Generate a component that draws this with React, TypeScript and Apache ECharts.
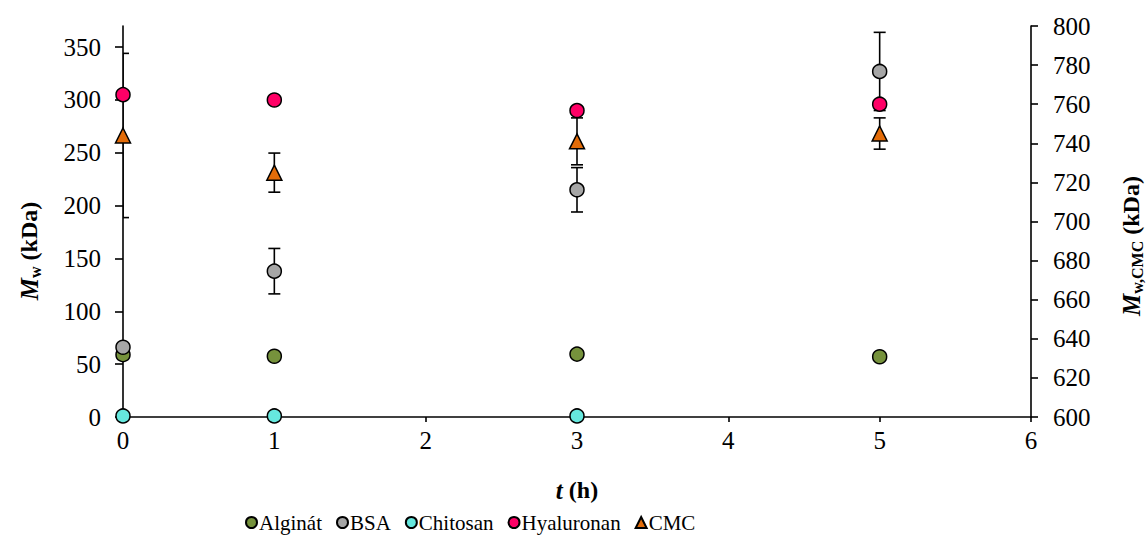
import React, { useEffect, useRef } from "react";
import * as echarts from "echarts";

const FONT = "'Liberation Serif', 'Times New Roman', serif";

const times = [0, 1, 3, 5];
const alginat = [59, 57.5, 59.5, 57];
const bsa = [66, 138, 215, 327];
const bsaErr = [0, 21.5, 21, 37];
const chitosanTimes = [0, 1, 3];
const chitosan = [1, 1, 1];
const hyaluronan = [305, 300, 290, 296];
const cmc = [744, 725, 741, 745];
const cmcErr = [42, 10, 12, 8];

const leftTicks = [0, 50, 100, 150, 200, 250, 300, 350];

const names = ["Alginát", "BSA", "Chitosan", "Hyaluronan", "CMC"];
const colors = ["#76923C", "#A6A6A6", "#66E8DE", "#FF0066", "#E36C09"];

function errRender(params: any, api: any) {
  const x = api.value(0);
  const y = api.value(1);
  const e = api.value(2);
  if (!e) return null;
  const hi = api.coord([x, y + e]);
  const lo = api.coord([x, y - e]);
  const w = 6;
  const style = { stroke: "#000", lineWidth: 1.6 };
  return {
    type: "group",
    children: [
      { type: "line", shape: { x1: hi[0], y1: hi[1], x2: lo[0], y2: lo[1] }, style },
      { type: "line", shape: { x1: hi[0] - w, y1: hi[1], x2: hi[0] + w, y2: hi[1] }, style },
      { type: "line", shape: { x1: lo[0] - w, y1: lo[1], x2: lo[0] + w, y2: lo[1] }, style },
    ],
  };
}

const titleRich = {
  m: { fontFamily: FONT, fontSize: 25, fontWeight: "bold", fontStyle: "italic", lineHeight: 28 },
  s: { fontFamily: FONT, fontSize: 16, fontWeight: "bold", padding: [12, 0, 0, 0], lineHeight: 16 },
  n: { fontFamily: FONT, fontSize: 24, fontWeight: "bold", lineHeight: 28 },
};

export default function App() {
  const ref = useRef<HTMLDivElement>(null);
  useEffect(() => {
    const chart = echarts.init(ref.current!, null, { renderer: "svg" });
    const axisLine = { show: true, lineStyle: { color: "#000", width: 1.6 } };
    const labelStyle = { color: "#000", fontFamily: FONT, fontSize: 25 };
    const scatterBase = (i: number) => ({
      name: names[i],
      type: "scatter",
      symbol: "circle",
      symbolSize: 14,
      clip: false,
      itemStyle: { color: colors[i], borderColor: "#000", borderWidth: 1.5, opacity: 1 },
      emphasis: { disabled: true },
    });
    chart.setOption({
      animation: false,
      backgroundColor: "#fff",
      grid: { left: 123, right: 117, top: 26, bottom: 122, containLabel: false },
      xAxis: {
        type: "value",
        min: 0,
        max: 6,
        interval: 1,
        axisLine,
        axisTick: { show: true, length: 5, lineStyle: { color: "#000", width: 1.6 } },
        axisLabel: { ...labelStyle, margin: 11 },
        splitLine: { show: false },
      },
      yAxis: [
        {
          type: "value",
          min: 0,
          max: 370,
          interval: 50,
          axisLine,
          axisTick: { show: true, length: 8, customValues: leftTicks, lineStyle: { color: "#000", width: 1.6 } },
          axisLabel: { ...labelStyle, margin: 22, customValues: leftTicks },
          splitLine: { show: false },
        },
        {
          type: "value",
          position: "right",
          min: 600,
          max: 800,
          interval: 20,
          axisLine,
          axisTick: { show: true, length: 7, lineStyle: { color: "#000", width: 1.6 } },
          axisLabel: { ...labelStyle, margin: 22 },
          splitLine: { show: false },
        },
      ],
      legend: {
        data: names,
        left: 240,
        top: 507,
        itemWidth: 11,
        itemHeight: 11,
        itemGap: 14,
        textStyle: { color: "#000", fontFamily: FONT, fontSize: 21, padding: [0, 0, 0, -3] },
      },
      series: [
        {
          type: "custom",
          name: "bsaErr",
          yAxisIndex: 0,
          clip: true,
          renderItem: errRender,
          data: times.map((t, i) => [t, bsa[i], bsaErr[i]]),
          silent: true,
        },
        {
          type: "custom",
          name: "cmcErr",
          yAxisIndex: 1,
          clip: true,
          renderItem: errRender,
          data: times.map((t, i) => [t, cmc[i], cmcErr[i]]),
          silent: true,
        },
        { ...scatterBase(0), data: times.map((t, i) => [t, alginat[i]]) },
        { ...scatterBase(1), data: times.map((t, i) => [t, bsa[i]]) },
        { ...scatterBase(2), data: chitosanTimes.map((t, i) => [t, chitosan[i]]) },
        { ...scatterBase(3), data: times.map((t, i) => [t, hyaluronan[i]]) },
        {
          ...scatterBase(4),
          symbol: "triangle",
          symbolSize: 15,
          yAxisIndex: 1,
          data: times.map((t, i) => [t, cmc[i]]),
        },
      ],
      graphic: [
        {
          type: "text",
          x: 29,
          y: 251,
          rotation: Math.PI / 2,
          style: {
            text: "{m|M}{s|w}{n| (kDa)}",
            align: "center",
            verticalAlign: "middle",
            textAlign: "center",
            textVerticalAlign: "middle",
            fill: "#000",
            rich: titleRich,
          },
        },
        {
          type: "text",
          x: 1131,
          y: 246,
          rotation: Math.PI / 2,
          style: {
            text: "{m|M}{s|w,CMC}{n| (kDa)}",
            align: "center",
            verticalAlign: "middle",
            textAlign: "center",
            textVerticalAlign: "middle",
            fill: "#000",
            rich: titleRich,
          },
        },
        {
          type: "text",
          x: 577,
          y: 490,
          style: {
            text: "{i|t}{n| (h)}",
            align: "center",
            verticalAlign: "middle",
            textAlign: "center",
            textVerticalAlign: "middle",
            fill: "#000",
            rich: {
              i: { fontFamily: FONT, fontSize: 25, fontWeight: "bold", fontStyle: "italic" },
              n: { fontFamily: FONT, fontSize: 24, fontWeight: "bold" },
            },
          },
        },
      ],
    });
    return () => chart.dispose();
  }, []);
  return (
    <div
      ref={ref}
      style={{ position: "fixed", left: 0, top: 0, width: 1148, height: 539, background: "#fff" }}
    />
  );
}
